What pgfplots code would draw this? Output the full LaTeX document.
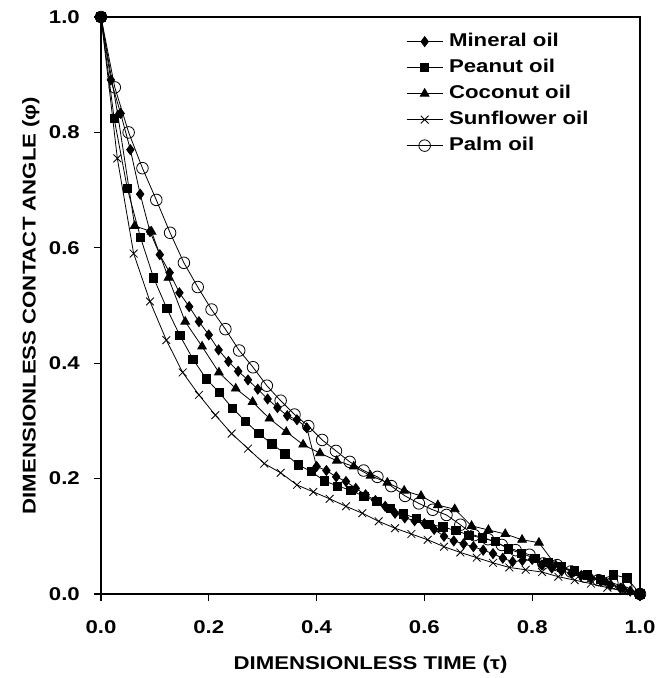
\documentclass[border=0pt]{standalone}
\usepackage{fontspec}
\setmainfont{Liberation Sans}[FakeStretch=1.2]
\usepackage{pgfplots}
\pgfplotsset{compat=1.18}
\newcommand{\chartfont}{\bfseries\fontsize{18.5}{22}\selectfont}
\begin{document}
\begin{tikzpicture}
\path[use as bounding box] (-101pt,-84pt) rectangle (571pt,594pt);
\begin{axis}[
  scale only axis,
  width=539pt, height=577pt,
  xmin=0, xmax=1, ymin=0, ymax=1,
  clip=false,
  axis line style={line width=1.2pt},
  xtick={0,0.2,0.4,0.6,0.8,1.0},
  ytick={0,0.2,0.4,0.6,0.8,1.0},
  xtick pos=bottom, ytick pos=left,
  tick align=outside,
  major tick length=7pt,
  tick style={line width=1.1pt, black},
  /pgf/number format/.cd, fixed, fixed zerofill, precision=1, assume math mode=true,
  /pgfplots/.cd,
  ticklabel style={font=\chartfont},
  yticklabel style={inner xsep=0pt, xshift=-14pt},
  xticklabel style={inner ysep=0pt, yshift=-19pt},
  xlabel={DIMENSIONLESS TIME (τ)},
  ylabel={DIMENSIONLESS CONTACT ANGLE (φ)},
  label style={font=\chartfont},
  xlabel style={at={(axis description cs:0.5,-0.1230)}, anchor=center},
  ylabel style={at={(axis description cs:-0.1300,0.5)}, anchor=center, rotate=0},
  legend style={draw=none, fill=none, at={(0.566,0.975)}, anchor=north west,
    inner sep=0pt, row sep=6pt, font=\chartfont,
    nodes={inner sep=1pt, text height=14pt, text depth=4pt},
    /tikz/every odd column/.append style={column sep=5pt}},
  legend cell align=left,
  legend image code/.code={\draw[mark repeat=2, mark phase=2, #1] plot coordinates {(0pt,0pt) (18pt,0pt) (36pt,0pt)};},
  every axis plot/.append style={black, line width=0.8pt},
]
% Mineral oil
\addplot[mark=diamond*, mark size=5pt, mark options={solid, fill=black}] coordinates {
(0,1) (0.0182,0.891) (0.0364,0.833) (0.0545,0.770) (0.0727,0.693) (0.0909,0.628)
(0.1091,0.588) (0.1273,0.557) (0.1455,0.522) (0.1636,0.498) (0.1818,0.472) (0.2,0.449)
(0.2182,0.423) (0.2364,0.403) (0.2545,0.386) (0.2727,0.371) (0.2909,0.355) (0.3091,0.338)
(0.3273,0.323) (0.3455,0.309) (0.3636,0.302) (0.3818,0.288) (0.4,0.221) (0.4182,0.214)
(0.4364,0.203) (0.4545,0.195) (0.4727,0.183) (0.4909,0.172) (0.5091,0.162) (0.5273,0.152)
(0.5455,0.140) (0.5636,0.132) (0.5818,0.127) (0.6,0.122) (0.6182,0.112) (0.6364,0.100)
(0.6545,0.092) (0.6727,0.087) (0.6909,0.082) (0.7091,0.076) (0.7273,0.070) (0.7455,0.062)
(0.7636,0.056) (0.7818,0.058) (0.8,0.060) (0.8182,0.050) (0.8364,0.045) (0.8545,0.040)
(0.8727,0.036) (0.8909,0.032) (0.9091,0.028) (0.9273,0.022) (0.9455,0.016) (0.9636,0.010)
(0.9818,0.005) (1,0)
};
\addlegendentry{Mineral oil}
% Peanut oil
\addplot[mark=square*, mark size=4.2pt, mark options={solid, fill=black}] coordinates {
(0,1) (0.0244,0.824) (0.0488,0.703) (0.0732,0.618) (0.0976,0.548) (0.1220,0.495)
(0.1463,0.448) (0.1707,0.407) (0.1951,0.373) (0.2195,0.349) (0.2439,0.322) (0.2683,0.299)
(0.2927,0.278) (0.3171,0.260) (0.3415,0.243) (0.3659,0.224) (0.3902,0.212) (0.4146,0.196)
(0.4390,0.187) (0.4634,0.180) (0.4878,0.169) (0.5122,0.160) (0.5366,0.148) (0.5610,0.139)
(0.5854,0.131) (0.6098,0.121) (0.6341,0.116) (0.6585,0.110) (0.6829,0.102) (0.7073,0.097)
(0.7317,0.091) (0.7561,0.078) (0.7805,0.070) (0.8049,0.062) (0.8293,0.055) (0.8537,0.047)
(0.8780,0.040) (0.9024,0.033) (0.9268,0.025) (0.9512,0.033) (0.9756,0.028) (1,0)
};
\addlegendentry{Peanut oil}
% Coconut oil
\addplot[mark=triangle*, mark size=5pt, mark options={solid, fill=black}] coordinates {
(0,1) (0.03125,0.830) (0.0625,0.638) (0.09375,0.628) (0.125,0.548) (0.15625,0.472)
(0.1875,0.429) (0.21875,0.384) (0.25,0.356) (0.28125,0.333) (0.3125,0.304) (0.34375,0.281)
(0.375,0.259) (0.40625,0.244) (0.4375,0.231) (0.46875,0.221) (0.5,0.205) (0.53125,0.193)
(0.5625,0.179) (0.59375,0.170) (0.625,0.154) (0.65625,0.147) (0.6875,0.118) (0.71875,0.111)
(0.75,0.104) (0.78125,0.094) (0.8125,0.089) (0.84375,0.050) (0.875,0.040) (0.90625,0.030)
(0.9375,0.020) (0.96875,0.010) (1,0)
};
\addlegendentry{Coconut oil}
% Sunflower oil
\addplot[mark=x, mark size=5.5pt, mark options={solid}] coordinates {
(0,1) (0.0303,0.755) (0.0606,0.590) (0.0909,0.507) (0.1212,0.440) (0.1515,0.384)
(0.1818,0.345) (0.2121,0.310) (0.2424,0.278) (0.2727,0.252) (0.3030,0.226) (0.3333,0.210)
(0.3636,0.189) (0.3939,0.177) (0.4242,0.165) (0.4545,0.152) (0.4848,0.140) (0.5152,0.126)
(0.5455,0.114) (0.5758,0.104) (0.6061,0.094) (0.6364,0.082) (0.6667,0.072) (0.6970,0.063)
(0.7273,0.054) (0.7576,0.046) (0.7879,0.042) (0.8182,0.038) (0.8485,0.030) (0.8788,0.024)
(0.9091,0.018) (0.9394,0.011) (0.9697,0.005) (1,0)
};
\addlegendentry{Sunflower oil}
% Palm oil
\addplot[mark=o, mark size=5.8pt, mark options={solid}] coordinates {
(0,1) (0.0256,0.878) (0.0513,0.800) (0.0769,0.738) (0.1026,0.683) (0.1282,0.626)
(0.1538,0.574) (0.1795,0.532) (0.2051,0.493) (0.2308,0.459) (0.2564,0.422) (0.2821,0.393)
(0.3077,0.361) (0.3333,0.335) (0.3590,0.311) (0.3846,0.291) (0.4103,0.267) (0.4359,0.248)
(0.4615,0.229) (0.4872,0.214) (0.5128,0.203) (0.5385,0.187) (0.5641,0.170) (0.5897,0.157)
(0.6154,0.146) (0.6410,0.137) (0.6667,0.120) (0.6923,0.102) (0.7179,0.095) (0.7436,0.085)
(0.7692,0.076) (0.7949,0.068) (0.8205,0.053) (0.8462,0.050) (0.8718,0.039) (0.8974,0.030)
(0.9231,0.024) (0.9487,0.019) (0.9744,0.012) (1,0)
};
\addlegendentry{Palm oil}
\end{axis}
\end{tikzpicture}
\end{document}
